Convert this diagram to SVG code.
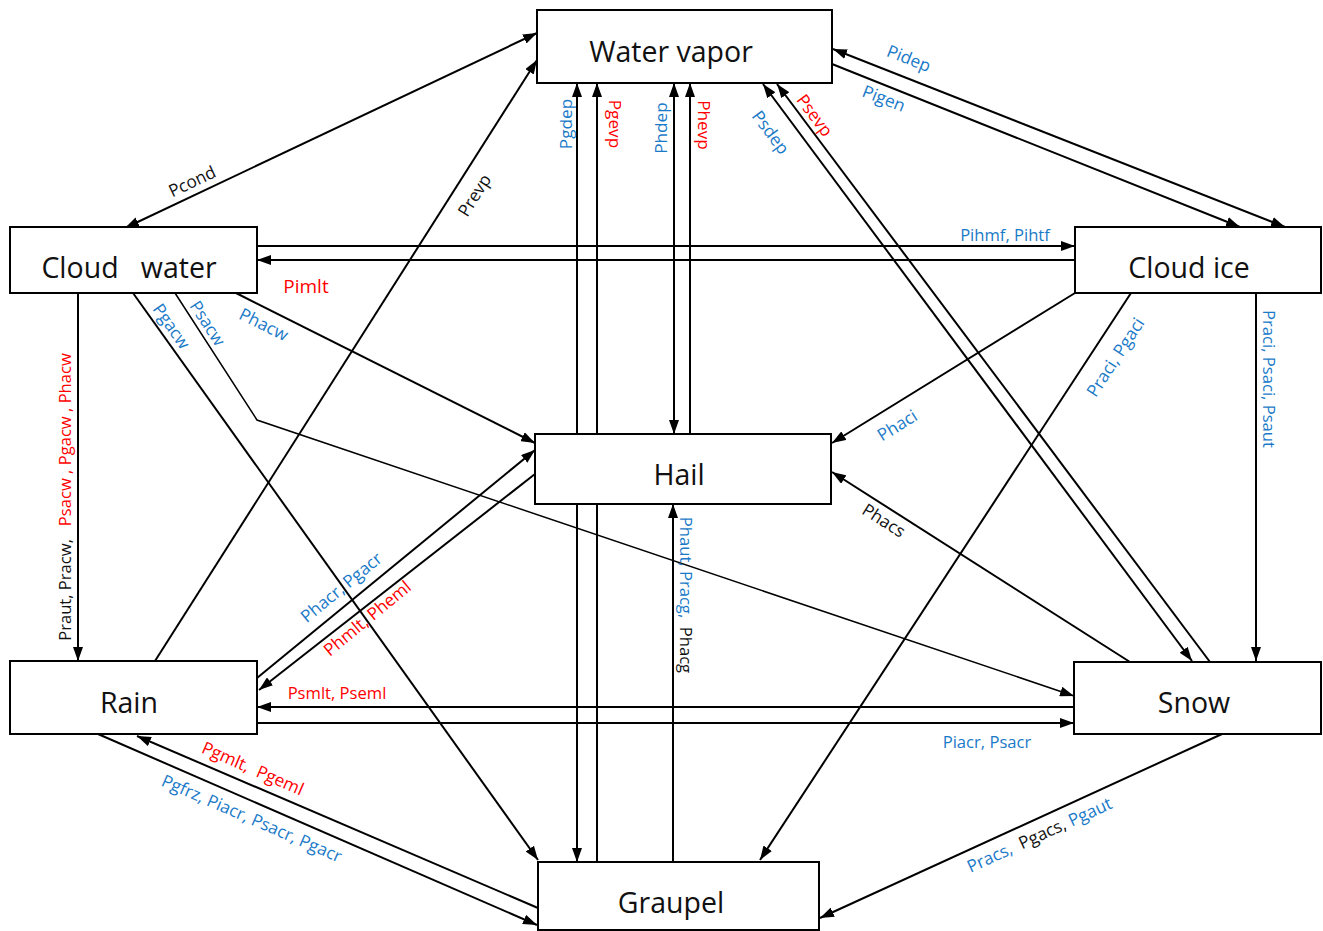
<svg xmlns="http://www.w3.org/2000/svg" width="1323" height="931" viewBox="0 0 1323 931">
<defs>
<marker id="ah" markerUnits="userSpaceOnUse" markerWidth="14" markerHeight="10" refX="14" refY="5" orient="auto-start-reverse" viewBox="0 0 14 10">
<path d="M0,0 L14,5 L0,10 z" fill="#000"/>
</marker>
<style>
.c{fill:none;stroke:#000;stroke-width:2}
.t{stroke-width:1.5}
.e{marker-end:url(#ah)}
.s{marker-start:url(#ah)}
.n rect{fill:#fff;stroke:#000;stroke-width:2}
.n text{font-family:"Open Sans","Noto Sans",sans-serif;font-size:28.5px;fill:#111;text-anchor:middle}
.l{font-family:"Open Sans","Noto Sans",sans-serif;font-size:16.6px;text-anchor:middle;dominant-baseline:central}
.d{font-size:17.2px}
.b{fill:#1a7ac8}
.r{fill:#ff0000}
.k{fill:#111}
</style>
</defs>
<rect width="1323" height="931" fill="#fff"/>
<g id="connectors">
<line class="c e s" x1="537" y1="33" x2="125" y2="228"/>
<line class="c e" x1="155" y1="661" x2="537" y2="60"/>
<line class="c e s" x1="833" y1="49" x2="1285" y2="227"/>
<line class="c e" x1="832" y1="64" x2="1240" y2="227"/>
<line class="c e" x1="257" y1="246" x2="1075" y2="246"/>
<line class="c e" x1="1075" y1="260" x2="257" y2="260"/>
<line class="c e" x1="78" y1="293" x2="78" y2="661"/>
<line class="c e" x1="236" y1="293" x2="535" y2="443"/>
<polyline class="c t e" points="175,293 257,420 1074,696"/>
<line class="c e" x1="133" y1="293" x2="538" y2="860"/>
<line class="c e s" x1="577" y1="83" x2="577" y2="862"/>
<line class="c e" x1="597" y1="862" x2="597" y2="83"/>
<line class="c e s" x1="674" y1="83" x2="674" y2="434"/>
<line class="c e" x1="690" y1="434" x2="690" y2="83"/>
<line class="c e s" x1="763" y1="84" x2="1192" y2="661"/>
<line class="c e" x1="1210" y1="662" x2="777" y2="84"/>
<line class="c e" x1="1075" y1="293" x2="832" y2="443"/>
<line class="c e" x1="1131" y1="293" x2="760" y2="860"/>
<line class="c e" x1="1256" y1="293" x2="1256" y2="661"/>
<line class="c e" x1="1130" y1="662" x2="832" y2="472"/>
<line class="c e" x1="257" y1="678" x2="535" y2="450"/>
<line class="c e" x1="535" y1="474" x2="259" y2="690"/>
<line class="c e" x1="1074" y1="707" x2="257" y2="707"/>
<line class="c e" x1="257" y1="723" x2="1074" y2="723"/>
<line class="c e" x1="538" y1="908" x2="137" y2="736"/>
<line class="c e" x1="98" y1="734" x2="537" y2="925"/>
<line class="c e" x1="1222" y1="734" x2="820" y2="918"/>
<line class="c e" x1="673" y1="862" x2="673" y2="504"/>
</g>
<g id="labels">
<text class="l d k" transform="translate(192,181) rotate(-25.3)">Pcond</text>
<text class="l d k" transform="translate(474,195) rotate(-57.6)">Prevp</text>
<text class="l d b" transform="translate(909,58) rotate(21.5)">Pidep</text>
<text class="l d b" transform="translate(884,98) rotate(21.5)">Pigen</text>
<text class="l b" x="1005" y="234">Pihmf, Pihtf</text>
<text class="l r" x="306" y="286" style="font-size:19px">Pimlt</text>
<text class="l d b" transform="translate(264,324) rotate(26.6)">Phacw</text>
<text class="l d b" transform="translate(208,323) rotate(57)">Psacw</text>
<text class="l d b" transform="translate(172,326) rotate(55)">Pgacw</text>
<text class="l" transform="translate(64,497) rotate(-90)" xml:space="preserve"><tspan class="k">Praut, Pracw,   </tspan><tspan class="r">Psacw , Pgacw , Phacw</tspan></text>
<text class="l d b" transform="translate(565,124) rotate(-90)">Pgdep</text>
<text class="l d r" transform="translate(615,124) rotate(90)">Pgevp</text>
<text class="l d b" transform="translate(660,128) rotate(-90)">Phdep</text>
<text class="l d r" transform="translate(704,125) rotate(90)">Phevp</text>
<text class="l d b" transform="translate(771,132) rotate(53.3)">Psdep</text>
<text class="l d r" transform="translate(815,115) rotate(53.3)">Psevp</text>
<text class="l d b" transform="translate(897,425) rotate(-31.7)">Phaci</text>
<text class="l d b" transform="translate(1115,357) rotate(-56.8)">Praci, Pgaci</text>
<text class="l b" transform="translate(1269,379) rotate(90)">Praci, Psaci, Psaut</text>
<text class="l d k" transform="translate(884,520) rotate(32.4)">Phacs</text>
<text class="l" transform="translate(687,595) rotate(90)" xml:space="preserve"><tspan class="b">Phaut, Pracg,  </tspan><tspan class="k">Phacg</tspan></text>
<text class="l d b" transform="translate(341,587) rotate(-39.4)">Phacr, Pgacr</text>
<text class="l d r" transform="translate(367,618) rotate(-39.4)">Phmlt, Pheml</text>
<text class="l r" x="337" y="692">Psmlt, Pseml</text>
<text class="l b" x="987" y="741">Piacr, Psacr</text>
<text class="l d r" transform="translate(253,768) rotate(23.5)" xml:space="preserve">Pgmlt,  Pgeml</text>
<text class="l d b" transform="translate(252,818) rotate(23.5)">Pgfrz, Piacr, Psacr, Pgacr</text>
<text class="l d" transform="translate(1039,834) rotate(-24.5)" xml:space="preserve"><tspan class="b">Pracs,  </tspan><tspan class="k">Pgacs, </tspan><tspan class="b">Pgaut</tspan></text>
</g>
<g id="vapor" class="n"><rect x="537" y="10" width="295" height="73"/><text x="671" y="62">Water vapor</text></g>
<g id="cloudwater" class="n"><rect x="10" y="227" width="247" height="66"/><text x="129" y="278" xml:space="preserve">Cloud   water</text></g>
<g id="cloudice" class="n"><rect x="1075" y="227" width="246" height="66"/><text x="1189" y="278">Cloud ice</text></g>
<g id="hail" class="n"><rect x="535" y="434" width="296" height="70"/><text x="679" y="485">Hail</text></g>
<g id="rain" class="n"><rect x="10" y="661" width="247" height="73"/><text x="129" y="713">Rain</text></g>
<g id="snow" class="n"><rect x="1074" y="662" width="247" height="72"/><text x="1194" y="713">Snow</text></g>
<g id="graupel" class="n"><rect x="538" y="862" width="281" height="68"/><text x="671" y="913">Graupel</text></g>
</svg>
